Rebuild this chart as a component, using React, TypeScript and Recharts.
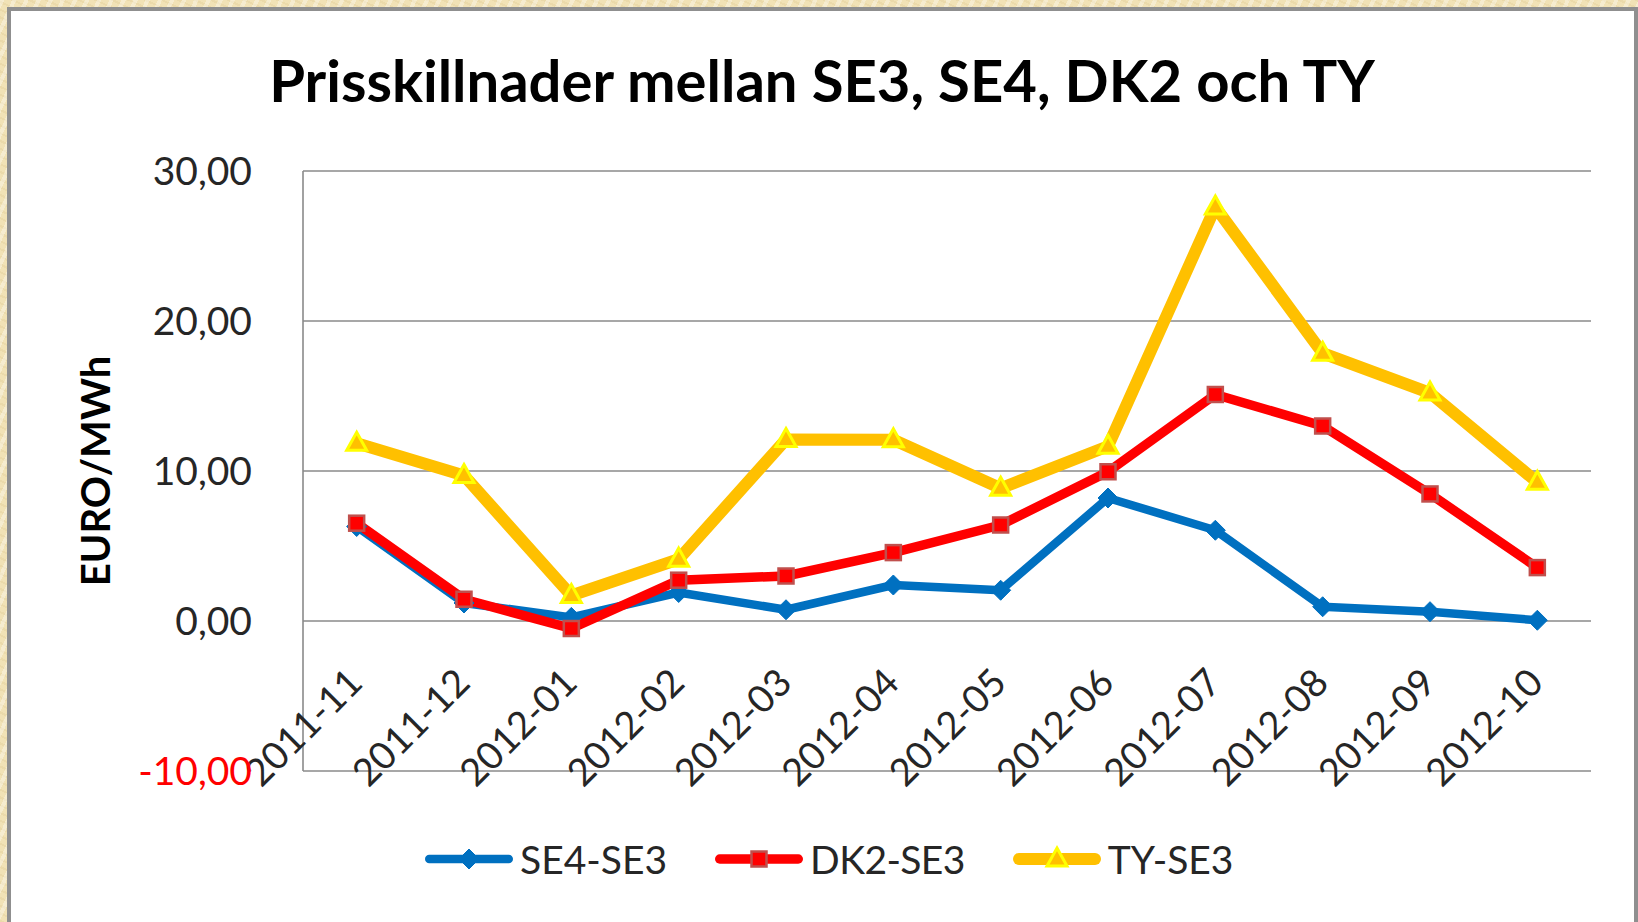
import React from 'react';
import { LineChart, Line, XAxis, YAxis, CartesianGrid, Legend } from 'recharts';

// ---------- data ----------
const months = ['2011-11', '2011-12', '2012-01', '2012-02', '2012-03', '2012-04', '2012-05', '2012-06', '2012-07', '2012-08', '2012-09', '2012-10'];
const se4se3 = [6.3, 1.2, 0.24, 1.9, 0.75, 2.4, 2.05, 8.2, 6.05, 0.95, 0.62, 0.05];
const dk2se3 = [6.52, 1.45, -0.5, 2.72, 3.0, 4.56, 6.4, 9.95, 15.1, 13.0, 8.47, 3.56];
const tyse3 = [11.85, 9.7, 1.7, 4.12, 12.1, 12.08, 8.85, 11.65, 27.6, 17.85, 15.2, 9.25];
const yTicks = [-10, 0, 10, 20, 30];
const seriesNames = ['SE4-SE3', 'DK2-SE3', 'TY-SE3'];
const titleText = 'Prisskillnader mellan SE3, SE4, DK2 och TY';
const yLabelText = 'EURO/MWh';

const data = months.map((m, i) => ({ month: m, se4: se4se3[i], dk2: dk2se3[i], ty: tyse3[i] }));

// ---------- layout / style ----------
const W = 1638;
const H = 922;
const PLOT_TOP = 171;
const PLOT_BOTTOM = 771;
const PLOT_LEFT = 303;
const PLOT_RIGHT = 1591;
const HALF_BAND = (PLOT_RIGHT - PLOT_LEFT) / months.length / 2;
const Y_MIN = -10;
const Y_MAX = 30;
const ZERO_Y = PLOT_TOP + ((PLOT_BOTTOM - PLOT_TOP) * (Y_MAX - 0)) / (Y_MAX - Y_MIN);
const FONT = 'Lato, "Open Sans", "Noto Sans", sans-serif';
const GRID = '#8a8a8a';

const BLUE = '#0070C0';
const RED = '#FF0000';
const ORANGE = '#FFC000';

const Diamond = ({ cx, cy }: { cx: number; cy: number }) => (
  <polygon points={`${cx},${cy - 10} ${cx + 10},${cy} ${cx},${cy + 10} ${cx - 10},${cy}`} fill={BLUE} stroke={BLUE} strokeWidth={1} />
);
const Square = ({ cx, cy }: { cx: number; cy: number }) => (
  <rect x={cx - 7.5} y={cy - 7.5} width={15} height={15} fill={RED} stroke="#C0504D" strokeWidth={2.5} />
);
const Triangle = ({ cx, cy }: { cx: number; cy: number }) => (
  <polygon points={`${cx},${cy - 11} ${cx + 10},${cy + 7} ${cx - 10},${cy + 7}`} fill={ORANGE} stroke="#FFFF00" strokeWidth={3} strokeLinejoin="miter" />
);

const series = [
  { key: 'se4', color: BLUE, width: 8.5, Marker: Diamond },
  { key: 'dk2', color: RED, width: 9.5, Marker: Square },
  { key: 'ty', color: ORANGE, width: 12, Marker: Triangle },
];

const makeDot = (Marker: any) => (p: any) => {
  if (p.cx == null || p.cy == null) return <g key={`d-${p.index}`} />;
  return (
    <g key={`d-${p.index}`}>
      <Marker cx={p.cx} cy={p.cy} />
    </g>
  );
};

const YTick = (props: any) => {
  const { x, y, payload } = props;
  const v = payload.value as number;
  return (
    <text x={x} y={y} dy="0.36em" textAnchor="end" fontFamily={FONT} fontSize={39} fill={v < 0 ? '#FF0000' : '#262626'}>
      {v.toFixed(2).replace('.', ',')}
    </text>
  );
};

const XTick = (props: any) => {
  const { x, payload } = props;
  const bx = x + 8;
  const by = ZERO_Y + 64;
  return (
    <text x={bx} y={by} textAnchor="end" transform={`rotate(-45 ${bx} ${by})`} fontFamily={FONT} fontSize={38} fill="#262626">
      {payload.value}
    </text>
  );
};

const YLabel = (props: any) => {
  const vb = props.viewBox || {};
  const cy = (vb.y ?? PLOT_TOP) + (vb.height ?? PLOT_BOTTOM - PLOT_TOP) / 2;
  const bx = 110;
  return (
    <text x={bx} y={cy} textAnchor="middle" transform={`rotate(-90 ${bx} ${cy})`} fontFamily={FONT} fontWeight={700} fontSize={40} fill="#000">
      {yLabelText}
    </text>
  );
};

const LegendContent = (props: any) => {
  const payload = [...(props.payload || [])].sort(
    (a: any, b: any) => seriesNames.indexOf(a.value) - seriesNames.indexOf(b.value)
  );
  return (
    <div style={{ display: 'flex', alignItems: 'center', fontFamily: FONT, fontSize: 39, color: '#262626', whiteSpace: 'nowrap' }}>
      {payload.map((entry: any, i: number) => {
        const s = series.find((q) => q.key === entry.dataKey) || series[i];
        const M = s.Marker;
        return (
          <div key={i} style={{ display: 'flex', alignItems: 'center', marginRight: i < payload.length - 1 ? 47 : 0 }}>
            <svg width={90} height={30} style={{ display: 'block' }}>
              <line x1={s.width / 2 + 1} y1={15} x2={89 - s.width / 2} y2={15} stroke={s.color} strokeWidth={s.width} strokeLinecap="round" />
              <M cx={45} cy={15} />
            </svg>
            <span style={{ marginLeft: 6, lineHeight: '46px', letterSpacing: i === 1 ? -0.6 : 0 }}>{entry.value}</span>
          </div>
        );
      })}
    </div>
  );
};

export default function App() {
  return (
    <div
      style={{
        position: 'fixed',
        left: 0,
        top: 0,
        width: W,
        height: H,
        overflow: 'hidden',
        background:
          'repeating-linear-gradient(115deg, rgba(255,255,255,0.35) 0px, rgba(255,255,255,0.35) 4px, rgba(0,0,0,0) 4px, rgba(0,0,0,0) 11px), repeating-linear-gradient(25deg, rgba(190,160,90,0.12) 0px, rgba(190,160,90,0.12) 2px, rgba(0,0,0,0) 2px, rgba(0,0,0,0) 7px), #F1E2B6',
      }}
    >
      <div
        style={{
          position: 'absolute',
          left: 7,
          top: 7,
          width: W - 7,
          height: H + 40,
          boxSizing: 'border-box',
          border: '4px solid #8f8f8f',
          background: '#ffffff',
        }}
      />
      <svg width={W} height={140} style={{ position: 'absolute', left: 0, top: 0 }}>
        <text x={822} y={102} textAnchor="middle" fontFamily={FONT} fontWeight={700} fontSize={58} fill="#000">
          {titleText}
        </text>
      </svg>
      <div style={{ position: 'absolute', left: 0, top: 0 }}>
        <LineChart
          width={W}
          height={H}
          data={data}
          margin={{ top: PLOT_TOP, right: W - PLOT_RIGHT, bottom: 0, left: 0 }}
        >
          <CartesianGrid horizontal vertical={false} stroke={GRID} strokeWidth={1.6} />
          <XAxis
            dataKey="month"
            axisLine={false}
            tickLine={false}
            height={H - PLOT_BOTTOM}
            tick={<XTick />}
            interval={0}
            padding={{ left: HALF_BAND, right: HALF_BAND }}
          />
          <YAxis
            domain={[Y_MIN, Y_MAX]}
            ticks={yTicks}
            width={PLOT_LEFT}
            axisLine={{ stroke: GRID, strokeWidth: 1.6 }}
            tickLine={false}
            tickSize={0}
            tickMargin={51}
            tick={<YTick />}
            label={<YLabel />}
            allowDataOverflow
          />
          <Legend
            layout="horizontal"
            verticalAlign="middle"
            align="center"
            content={<LegendContent />}
            wrapperStyle={{ position: 'absolute', left: 424, top: 836, width: 'auto' }}
          />
          {series.map((s, i) => (
            <Line
              key={s.key}
              type="linear"
              dataKey={s.key}
              name={seriesNames[i]}
              stroke={s.color}
              strokeWidth={s.width}
              strokeLinejoin="round"
              strokeLinecap="round"
              dot={makeDot(s.Marker)}
              activeDot={false}
              isAnimationActive={false}
            />
          ))}
        </LineChart>
      </div>
    </div>
  );
}
